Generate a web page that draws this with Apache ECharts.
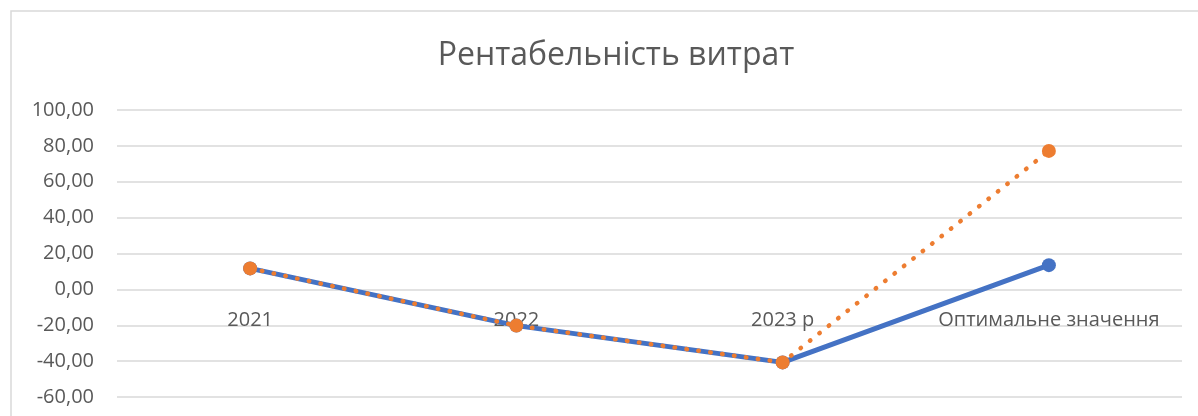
<!DOCTYPE html>
<html>
<head>
<meta charset="utf-8">
<script src="https://cdn.jsdelivr.net/npm/echarts@6/dist/echarts.min.js"></script>
<style>
  html, body { margin: 0; padding: 0; background: #ffffff; }
  #chart { width: 1198px; height: 416px; }
</style>
</head>
<body>
<div id="chart"></div>
<script>
// Рентабельність витрат: actual vs. target profitability of expenses
const categories = ['2021', '2022', '2023 р', 'Оптимальне значення'];
const actualValues = [11.7, -20.2, -40.7, 13.5];
const targetValues = [11.7, -20.2, -40.7, 77.2];
const yMin = -60;
const yMax = 100;
const yStep = 20;

const FONT = '"Open Sans", "Noto Sans", sans-serif';
const TEXT = '#595959';

const chart = echarts.init(document.getElementById('chart'));
chart.setOption({
  animation: false,
  backgroundColor: '#ffffff',
  title: {
    text: 'Рентабельність витрат',
    left: 611,
    top: 35,
    textAlign: 'center',
    textStyle: { fontFamily: FONT, fontSize: 32, fontWeight: 'normal', color: TEXT }
  },
  graphic: [{
    type: 'rect',
    shape: { x: 11, y: 11, width: 1400, height: 600 },
    style: { fill: 'none', stroke: '#d9d9d9', lineWidth: 1.5 },
    silent: true,
    z: -1
  }],
  grid: { left: 117, right: 16, top: 110, bottom: 19, containLabel: false, outerBoundsMode: 'none' },
  xAxis: {
    type: 'category',
    data: categories,
    boundaryGap: true,
    position: 'bottom',
    axisLine: { show: false, onZero: false },
    axisTick: { show: false },
    // category labels sit just under the zero line
    axisLabel: {
      fontFamily: FONT, fontSize: 20, color: TEXT, margin: -87,
      interval: 0, hideOverlap: false
    },
    splitLine: { show: false }
  },
  yAxis: {
    type: 'value',
    min: yMin,
    max: yMax,
    interval: yStep,
    axisLine: { show: false },
    axisTick: { show: false },
    axisLabel: {
      fontFamily: FONT, fontSize: 20, color: TEXT, margin: 23,
      formatter: v => v.toFixed(2).replace('.', ',')
    },
    splitLine: { lineStyle: { color: '#d9d9d9', width: 1.5 } }
  },
  series: [
    {
      name: 'Фактичне',
      type: 'line',
      data: actualValues,
      symbol: 'circle',
      symbolSize: 14,
      itemStyle: { color: '#4472C4' },
      lineStyle: { color: '#4472C4', width: 5 },
      z: 2
    },
    {
      name: 'Цільове',
      type: 'line',
      data: targetValues,
      symbol: 'circle',
      symbolSize: 14,
      itemStyle: { color: '#ED7D31' },
      lineStyle: { color: '#ED7D31', width: 4.5, type: [0.5, 11.5], cap: 'round' },
      z: 3
    }
  ]
});
</script>
</body>
</html>
